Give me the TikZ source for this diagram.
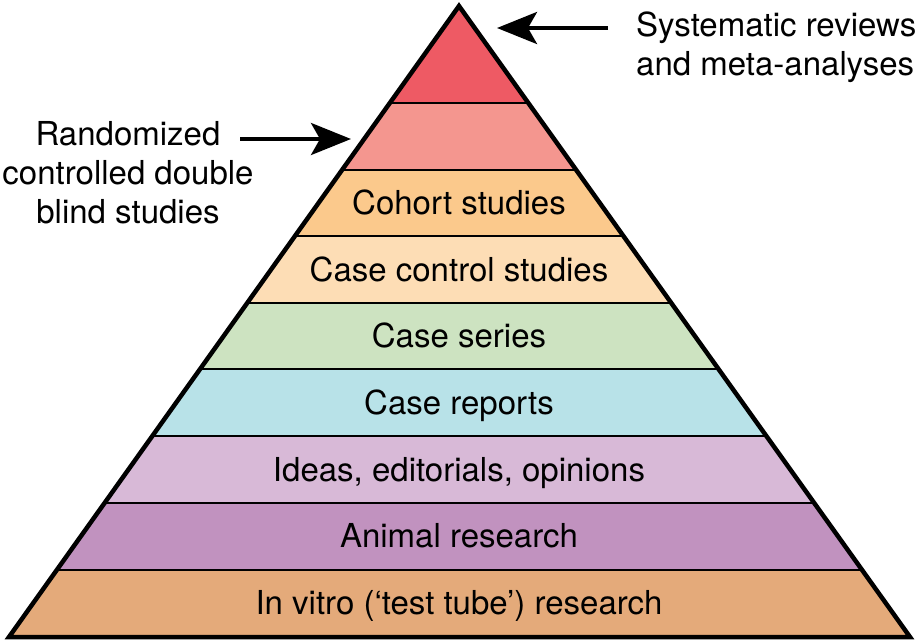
\documentclass[tikz,border=0pt]{standalone}
\usepackage{fontspec}
\setmainfont{TeX Gyre Heros}
\usetikzlibrary{arrows.meta}

\definecolor{lvltop}{RGB}{238,90,100}
\definecolor{lvlrct}{RGB}{244,150,143}
\definecolor{lvlcohort}{RGB}{251,201,140}
\definecolor{lvlcasectrl}{RGB}{253,221,181}
\definecolor{lvlseries}{RGB}{205,227,193}
\definecolor{lvlreports}{RGB}{184,226,232}
\definecolor{lvlideas}{RGB}{216,185,215}
\definecolor{lvlanimal}{RGB}{193,146,191}
\definecolor{lvlvitro}{RGB}{228,170,122}

\tikzset{
  lvltext/.style={anchor=base,inner sep=0pt,font=\fontsize{33}{39}\selectfont},
  sidetext/.style={inner sep=0pt,font=\fontsize{33}{39}\selectfont},
  pointer/.style={line width=4pt,-{Stealth[length=40pt,width=32pt,inset=9pt]}}
}

\begin{document}
\begin{tikzpicture}[x=1pt,y=1pt,yscale=-1,xscale=1]
\useasboundingbox (0,0) rectangle (919,640);

% pyramid corners
\coordinate (apex) at (459,6);
\coordinate (bl) at (9,637);
\coordinate (br) at (910,637);

% coloured levels
\begin{scope}
\clip (apex) -- (bl) -- (br) -- cycle;
\foreach \ya/\yb/\col in {0/103/lvltop,103/170/lvlrct,170/236/lvlcohort,236/303/lvlcasectrl,303/369/lvlseries,369/436/lvlreports,436/503/lvlideas,503/570/lvlanimal,570/640/lvlvitro}
  \fill [\col] (0,\ya) rectangle (919,\yb);
\foreach \y in {103,170,236,303,369,436,503,570}
  \draw [line width=2.2pt] (0,\y) -- (919,\y);
\end{scope}
\draw [line width=4.5pt,line join=miter] (apex) -- (bl) -- (br) -- cycle;

% level labels
\node [lvltext] (cohort) at (459,214) {Cohort studies};
\node [lvltext] (casectrl) at (459,281) {Case control studies};
\node [lvltext] (series) at (459,347) {Case series};
\node [lvltext] (reports) at (459,414) {Case reports};
\node [lvltext] (ideas) at (459,481) {Ideas, editorials, opinions};
\node [lvltext] (animal) at (459,547) {Animal research};
\node [lvltext] (invitro) at (459,614) {In vitro (‘test tube’) research};

% side labels (base = last line)
\node [sidetext,anchor=base west,align=left] (sysrev) at (636,75) {Systematic reviews\\and meta-analyses};
\node [sidetext,anchor=base,align=center] (rct) at (128,223) {Randomized\\controlled double\\blind studies};

% arrows
\coordinate (sysrevtail) at (608,28);
\coordinate (sysrevtip) at (497,28);
\coordinate (rcttail) at (240,139);
\coordinate (rcttip) at (351,139);
\draw [pointer] (sysrevtail) -- (sysrevtip);
\draw [pointer] (rcttail) -- (rcttip);

\end{tikzpicture}
\end{document}
